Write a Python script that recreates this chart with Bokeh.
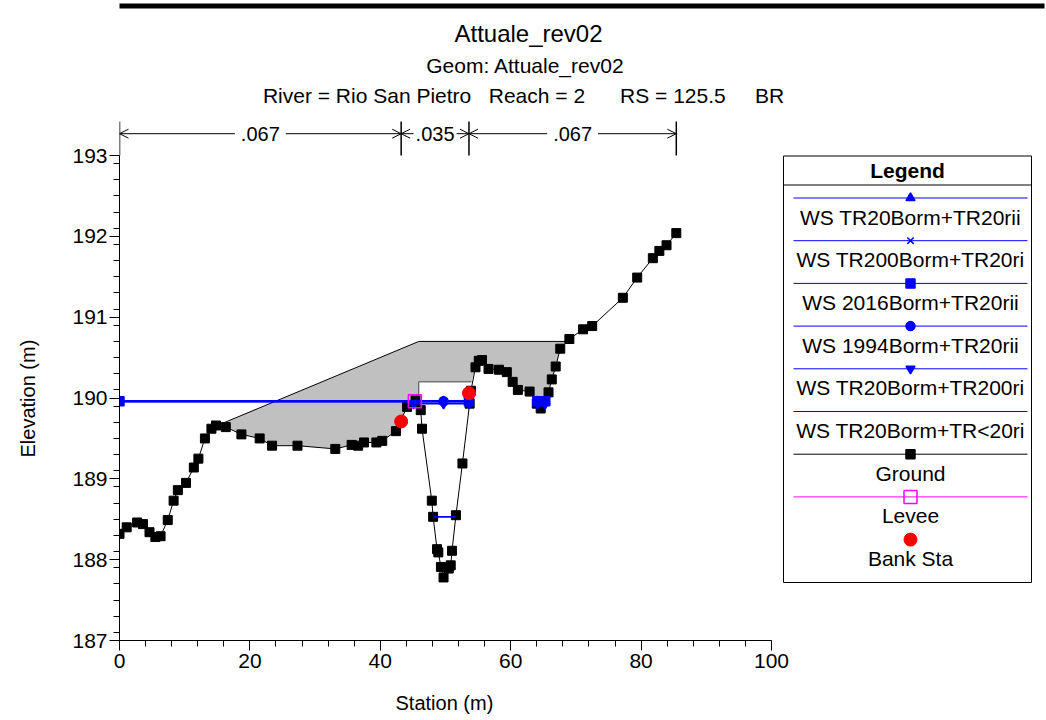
import numpy as np
from bokeh.plotting import figure
from bokeh.models import Range1d, FixedTicker, Arrow, OpenHead, Title
from bokeh.core.properties import value
from bokeh.embed import file_html
from bokeh.resources import INLINE

# ---------------- data ----------------
station = [0.0, 1.1, 2.7, 3.6, 4.6, 5.5, 6.3, 7.4, 8.3, 8.95,
           10.2, 11.4, 12.1, 13.1, 14.1, 14.8, 16.3, 18.7, 21.5, 23.4,
           27.3, 33.1, 35.6, 36.6, 37.5, 39.4, 40.3, 42.4, 44.1, 45.4,
           46.2, 46.4, 47.9, 48.1, 48.7, 48.9, 49.3, 49.7, 50.5, 50.8,
           51.0, 51.6, 52.6, 53.7, 53.9, 54.6, 55.1, 55.6, 56.6, 58.2,
           59.4, 60.3, 61.1, 62.9, 64.0, 64.6, 65.8, 66.3, 66.9, 67.6,
           69.0, 71.1, 72.5, 77.2, 79.4, 81.8, 82.8, 83.9, 85.4]
elevation = [188.32, 188.40, 188.46, 188.44, 188.34, 188.28, 188.29, 188.49, 188.73, 188.86,
             188.95, 189.14, 189.25, 189.50, 189.62, 189.66, 189.64, 189.55, 189.50, 189.41,
             189.41, 189.37, 189.42, 189.41, 189.45, 189.45, 189.47, 189.59, 189.89, 189.97,
             189.85, 189.62, 188.73, 188.53, 188.13, 188.09, 187.91, 187.78, 187.89, 187.93,
             188.11, 188.55, 189.19, 189.93, 190.09, 190.38, 190.46, 190.47, 190.36, 190.35,
             190.32, 190.20, 190.10, 190.08, 189.93, 189.87, 190.07, 190.23, 190.39, 190.61,
             190.73, 190.85, 190.89, 191.24, 191.49, 191.73, 191.82, 191.89, 192.04]

bank_sta = [43.2, 53.6]
bank_elev = [189.71, 190.06]
levee_sta = [45.3]
levee_elev = [189.96]

deck_sta = [15.0, 45.9, 68.4]          # high chord
deck_elev = [189.66, 190.70, 190.70]
lowchord_sta = [45.9, 54.0]            # bridge opening low chord
lowchord_elev = [190.20, 190.20]

n_values = [".067", ".035", ".067"]
n_breaks = [0.0, 43.2, 53.6, 85.4]

ws_names = ["WS TR20Borm+TR20rii", "WS TR200Borm+TR20ri", "WS 2016Borm+TR20rii",
            "WS 1994Borm+TR20rii", "WS TR20Borm+TR200ri", "WS TR20Borm+TR<20ri"]
ws_elev = [189.96, 189.96, 189.96, 189.96, 189.93, 188.53]
ws_seg_start = [[0.0, 63.8], [0.0, 63.8], [0.0, 63.8], [0.0, 63.8], [45.3, 63.8], [48.15]]
ws_seg_end = [[53.7, 65.6], [53.7, 65.6], [53.7, 65.6], [53.7, 65.6], [53.7, 65.6], [51.6]]
ws_marker_sta = [[49.7, 53.6, 64.1, 65.3], [49.7], [0.0, 53.6, 64.1, 65.3], [49.7, 64.1],
                 [45.1, 49.7, 53.6, 64.1, 65.3], []]
ws_markers = ["triangle", "x", "square", "circle", "inverted_triangle", None]

x_ticks = [0, 20, 40, 60, 80, 100]
x_minor = [4 * i for i in range(26)]
y_ticks = [187, 188, 189, 190, 191, 192, 193]
y_minor = [round(187.1 + 0.2 * i, 1) for i in range(30)]

NB = "\u00a0"
title_lines = ["Attuale_rev02", "Geom: Attuale_rev02",
               "River = Rio San Pietro" + NB * 2 + " Reach = 2" + NB * 5 + " RS = 125.5" + NB * 4 + " BR"]

# ---------------- layout constants (page pixels) ----------------
FONT = "Liberation Sans"
W, H = 1046, 718
FL, FR, FT, FB = 119, 1044, 0, 640      # plot frame
PX_PER_X = 6.52
PX_PER_Y = 80.83
Y0 = 187.0

p = figure(width=W, height=H, output_backend="svg", toolbar_location=None,
           x_range=Range1d(0, (FR - FL) / PX_PER_X),
           y_range=Range1d(Y0, Y0 + (FB - FT) / PX_PER_Y),
           min_border_left=FL, min_border_right=W - FR,
           min_border_top=FT, min_border_bottom=H - FB)
p.extra_x_ranges = {"px": Range1d(FL, FR)}
p.extra_y_ranges = {"py": Range1d(FB, FT)}
p.xgrid.visible = False
p.ygrid.visible = False
p.outline_line_color = None
p.background_fill_color = "white"
p.border_fill_color = "white"

xa = p.xaxis[0]
ya = p.yaxis[0]
xa.ticker = FixedTicker(ticks=x_ticks, minor_ticks=x_minor)
xa.bounds = (0, 100)
ya.ticker = FixedTicker(ticks=y_ticks, minor_ticks=y_minor)
ya.bounds = (187, 193)
for ax in (xa, ya):
    ax.axis_line_color = "black"
    ax.major_tick_line_color = "black"
    ax.minor_tick_line_color = "black"
    ax.major_tick_out = 10
    ax.major_tick_in = 0
    ax.minor_tick_out = 6
    ax.minor_tick_in = 0
    ax.major_label_text_font = FONT
    ax.major_label_text_font_size = "21px"
    ax.major_label_text_color = "black"
    ax.axis_label = " "                      # spacer only; real titles below
    ax.axis_label_text_font_size = "1px"
xa.major_label_standoff = 3
ya.major_label_standoff = 2
xa.axis_label_standoff = 15
ya.axis_label_standoff = 26

# axis titles, positioned along the 0-100 / 187-193 extent
p.add_layout(Title(text="Station (m)", align="left", offset=276, standoff=0,
                   text_font=FONT, text_font_size="20px", text_font_style="normal",
                   text_color="black", vertical_align="bottom"), "below")
p.add_layout(Title(text="Elevation (m)", align="left", offset=183, standoff=2,
                   text_font=FONT, text_font_size="20px", text_font_style="normal",
                   text_color="black", vertical_align="bottom"), "left")

# ---------------- bridge deck (gray) ----------------
st = np.array(station)
el = np.array(elevation)
right_mask = (st > lowchord_sta[1]) & (st < deck_sta[-1])
left_mask = (st > deck_sta[0]) & (st < lowchord_sta[0])
g_low_left = float(np.interp(lowchord_sta[0], st, el))
poly_x = list(deck_sta) + list(st[right_mask][::-1]) + \
    [lowchord_sta[1], lowchord_sta[0], lowchord_sta[0]] + list(st[left_mask][::-1])
poly_y = list(deck_elev) + list(el[right_mask][::-1]) + \
    [lowchord_elev[1], lowchord_elev[0], g_low_left] + list(el[left_mask][::-1])
p.patch(poly_x, poly_y, fill_color="#C0C0C0", line_color=None)
p.line(deck_sta, deck_elev, line_color="black", line_width=1)
p.line([lowchord_sta[0], lowchord_sta[0], lowchord_sta[1]],
       [g_low_left, lowchord_elev[0], lowchord_elev[1]], line_color="#404040", line_width=1)

# ---------------- ground ----------------
p.line(station, elevation, line_color="black", line_width=1)
p.scatter(station, elevation, marker="square", size=9, color="black")

# ---------------- water surfaces ----------------
for i in range(len(ws_names)):
    xs = [[a, b] for a, b in zip(ws_seg_start[i], ws_seg_end[i])]
    ys = [[ws_elev[i], ws_elev[i]] for _ in xs]
    p.multi_line(xs, ys, line_color="blue", line_width=1.8)
for i in range(len(ws_names)):
    if ws_markers[i] is None or not ws_marker_sta[i]:
        continue
    yy = [ws_elev[i]] * len(ws_marker_sta[i])
    p.scatter(ws_marker_sta[i], yy, marker=ws_markers[i], size=9,
              fill_color="blue", line_color="blue", line_width=1.5)

# ---------------- levee & bank stations ----------------
p.scatter(levee_sta, levee_elev, marker="square", size=13, fill_color=None,
          line_color="magenta", line_width=1.5)
p.scatter(bank_sta, bank_elev, marker="circle", size=13, color="red")

# ---------------- Manning's n ----------------
Y_N = 193.27
p.segment(x0=n_breaks, y0=[193.0] * len(n_breaks), x1=n_breaks, y1=[193.42] * len(n_breaks),
          line_color="black", line_width=1.5)
mids = []
for i in range(len(n_values)):
    a, b = n_breaks[i], n_breaks[i + 1]
    mid = (a + b) / 2
    mids.append(mid)
    gap = min(3.9, (b - a) / 2 - 1.9)
    p.add_layout(Arrow(end=OpenHead(size=9, line_width=1), x_start=mid - gap, y_start=Y_N,
                       x_end=a, y_end=Y_N, line_width=1))
    p.add_layout(Arrow(end=OpenHead(size=9, line_width=1), x_start=mid + gap, y_start=Y_N,
                       x_end=b, y_end=Y_N, line_width=1))
p.text(x=mids, y=[Y_N] * len(mids), text=n_values, text_font=value(FONT),
       text_font_size=value("20px"), text_align="center", text_baseline="middle",
       text_color="black")

# ---------------- header (inside the frame, page-pixel range) ----------------
p.quad(left=[0], right=[W], top=[3], bottom=[8], fill_color="black", line_color=None,
       x_range_name="px", y_range_name="py")
p.text(x=[528], y=[33], text=[title_lines[0]], text_font=value(FONT),
       text_font_size=value("24px"), text_align="center", text_baseline="middle",
       x_range_name="px", y_range_name="py")
p.text(x=[525, 523], y=[65, 95], text=title_lines[1:], text_font=value(FONT),
       text_font_size=value("21px"), text_align="center", text_baseline="middle",
       x_range_name="px", y_range_name="py")

# ---------------- legend ----------------
LEG_L, LEG_R, LEG_T, LEG_B = 783, 1031, 155.5, 582
LEG_CX = 910
p.quad(left=[LEG_L], right=[LEG_R], top=[LEG_T], bottom=[LEG_B], fill_color="white",
       line_color="black", line_width=1, x_range_name="px", y_range_name="py")
p.segment(x0=[LEG_L], y0=[184.5], x1=[LEG_R], y1=[184.5], line_color="black",
          x_range_name="px", y_range_name="py")
p.text(x=[(LEG_L + LEG_R) / 2], y=[170], text=["Legend"], text_font=value(FONT),
       text_font_size=value("21px"), text_font_style="bold", text_align="center",
       text_baseline="middle", x_range_name="px", y_range_name="py")

item_names = ws_names + ["Ground", "Levee"]
item_colors = ["blue"] * 6 + ["black", "magenta"]
item_markers = ws_markers + ["square", "square"]
ROW0, STEP = 197.5, 42.7
for i, name in enumerate(item_names):
    yl = ROW0 + i * STEP
    p.line([793, 1027], [yl, yl], line_color=item_colors[i], line_width=1,
           x_range_name="px", y_range_name="py")
    mk = item_markers[i]
    if mk is not None:
        if name == "Levee":
            p.scatter([LEG_CX], [yl], marker=mk, size=13, fill_color=None,
                      line_color=item_colors[i], line_width=1.5,
                      x_range_name="px", y_range_name="py")
        else:
            p.scatter([LEG_CX], [yl], marker=mk, size=9, fill_color=item_colors[i],
                      line_color=item_colors[i], line_width=1.5,
                      x_range_name="px", y_range_name="py")
    p.text(x=[LEG_CX], y=[yl + 19], text=[name], text_font=value(FONT),
           text_font_size=value("21px"), text_align="center", text_baseline="middle",
           x_range_name="px", y_range_name="py")
yb = ROW0 + len(item_names) * STEP
p.scatter([LEG_CX], [yb], marker="circle", size=13, color="red",
          x_range_name="px", y_range_name="py")
p.text(x=[LEG_CX], y=[yb + 19], text=["Bank Sta"], text_font=value(FONT),
       text_font_size=value("21px"), text_align="center", text_baseline="middle",
       x_range_name="px", y_range_name="py")

open("out.html", "w").write(file_html(p, INLINE))
